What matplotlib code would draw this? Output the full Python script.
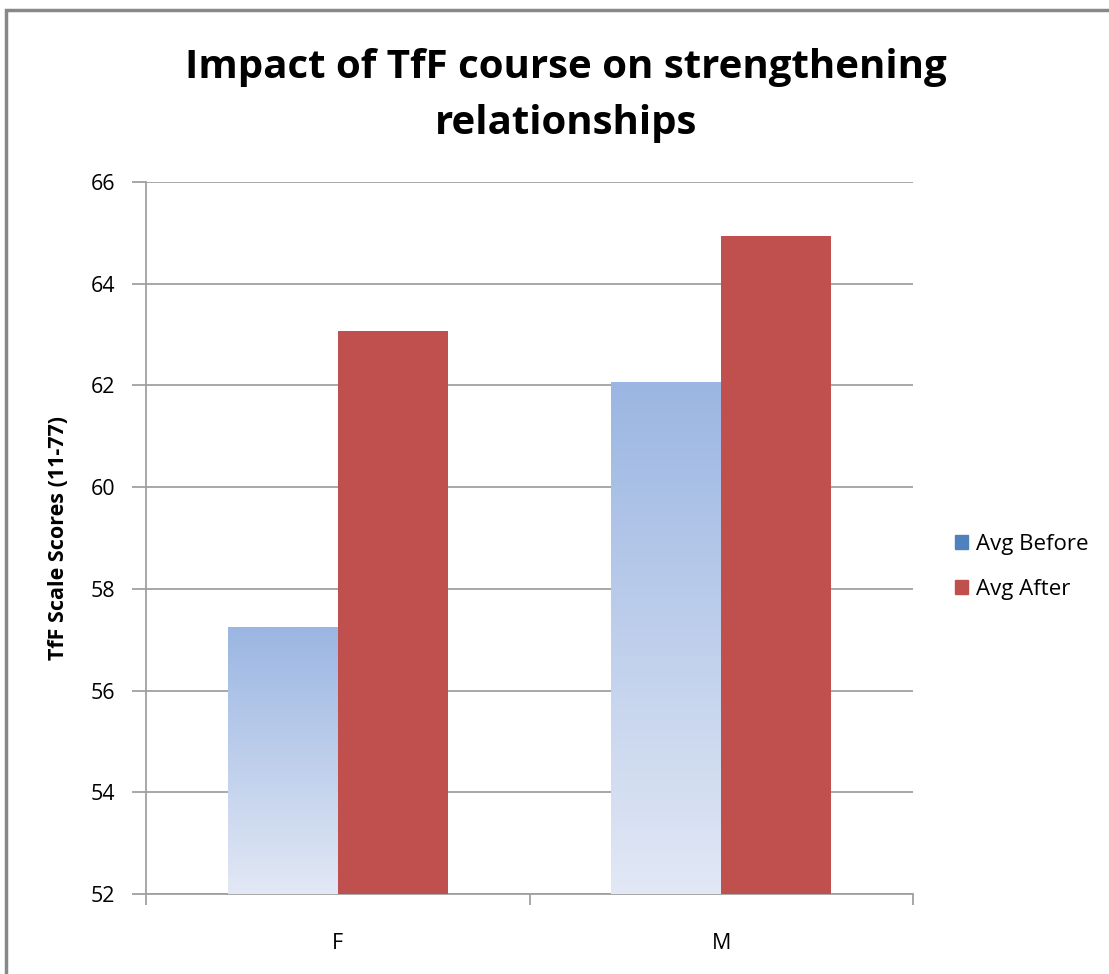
import numpy as np
import matplotlib
matplotlib.use("Agg")
import matplotlib.pyplot as plt
from matplotlib.colors import LinearSegmentedColormap
from matplotlib.patches import Rectangle

plt.rcParams["font.family"] = ["Open Sans", "DejaVu Sans"]

# ---------------------------------------------------------------------------
# data
# ---------------------------------------------------------------------------
groups = ["F", "M"]
avg_before = [57.25, 62.07]
avg_after = [63.08, 64.94]
y_ticks = [52, 54, 56, 58, 60, 62, 64, 66]

BLUE = "#4F81BD"
RED = "#C0504D"
GRID = "#A0A0A0"

fig = plt.figure(figsize=(11.09, 9.74), dpi=100)
ax = fig.add_axes([0.1317, 0.0821, 0.6916, 0.7310])

x = np.arange(len(groups))
w = 0.287
y0 = y_ticks[0]

# before bars: light blue gradient, darker at the top
grad = LinearSegmentedColormap.from_list("before", ["#E2E8F5", "#9BB6E2"])
before = ax.bar(x - w / 2, np.array(avg_before) - y0, w, bottom=y0,
                color="none", edgecolor="none", zorder=3)
for bar in before:
    bx, by = bar.get_x(), bar.get_y()
    bw, bh = bar.get_width(), bar.get_height()
    img = ax.imshow(np.linspace(0, 1, 256).reshape(-1, 1), cmap=grad,
                    origin="lower", aspect="auto",
                    extent=[bx, bx + bw, by, by + bh], zorder=3)
    img.set_clip_path(bar)

ax.bar(x + w / 2, np.array(avg_after) - y0, w, bottom=y0,
       color=RED, edgecolor="none", zorder=3)

ax.set_xlim(-0.5, len(groups) - 0.5)
ax.set_ylim(y_ticks[0], y_ticks[-1])
ax.set_yticks(y_ticks)
ax.set_yticklabels([str(t) for t in y_ticks], fontsize=15.5)
ax.grid(axis="y", color=GRID, linewidth=1.3, zorder=1)

# category labels sit between the boundary tick marks
ax.set_xticks(x)
ax.set_xticklabels(groups, fontsize=15.5)
ax.tick_params(axis="x", length=0, pad=28)
ax.set_xticks(np.arange(len(groups) + 1) - 0.5, minor=True)
ax.tick_params(axis="x", which="minor", length=8, width=1.3, color=GRID)
ax.tick_params(axis="y", length=10, width=1.3, color=GRID, pad=12)

for side in ["top", "right"]:
    ax.spines[side].set_visible(False)
for side in ["left", "bottom"]:
    ax.spines[side].set_color(GRID)
    ax.spines[side].set_linewidth(1.3)

ax.set_ylabel("TfF Scale Scores (11-77)", fontsize=15.5, fontweight="bold",
              labelpad=16)

fig.text(0.51, 0.902, "Impact of TfF course on strengthening\nrelationships",
         ha="center", va="center", fontsize=29, fontweight="bold",
         linespacing=1.55)

# legend on the right
handles = [Rectangle((0, 0), 1, 1, color=BLUE), Rectangle((0, 0), 1, 1, color=RED)]
fig.legend(handles, ["Avg Before", "Avg After"], loc="center left",
           bbox_to_anchor=(0.843, 0.418), frameon=False, fontsize=16,
           handlelength=0.6, handleheight=0.6, handletextpad=0.35,
           labelspacing=1.1)

# chart frame
fig.add_artist(Rectangle((0.0055, -0.05), 1.1, 1.04, transform=fig.transFigure,
                         fill=False, edgecolor="#888888", linewidth=2.5))

fig.savefig("out.png", dpi=100, facecolor="white")
